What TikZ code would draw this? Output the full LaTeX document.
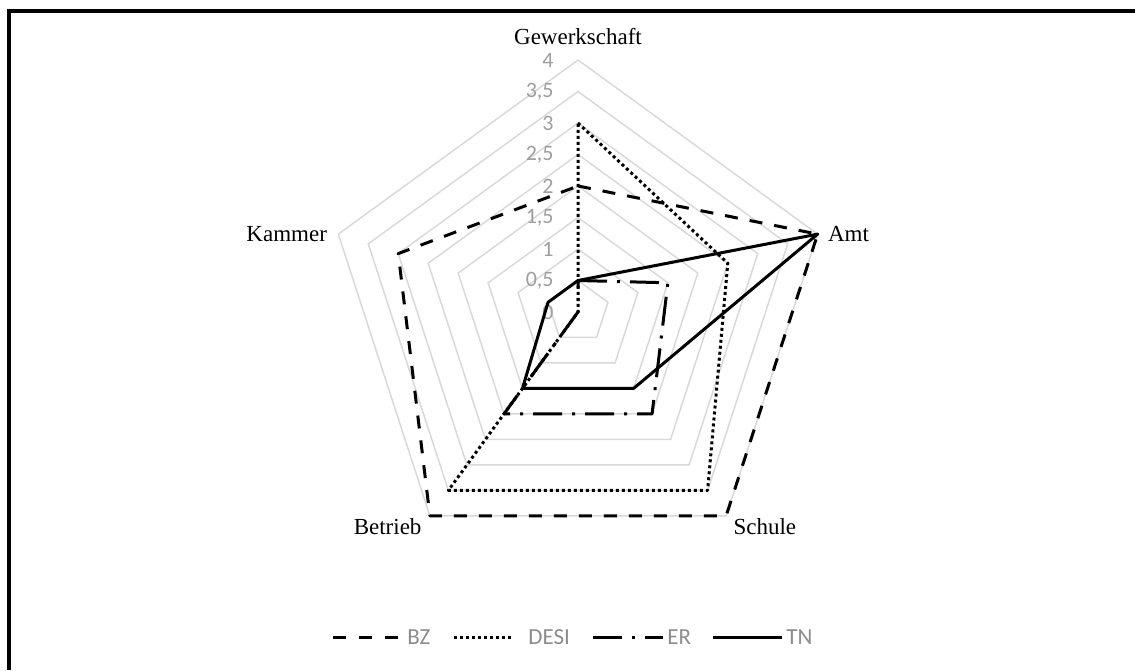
\documentclass[tikz,border=0pt]{standalone}
\usepackage{fontspec}
\setmainfont{Liberation Serif}
\newfontfamily\chartfont{Carlito}
\usetikzlibrary{positioning}

\begin{document}
\begin{tikzpicture}[
    x=0.5pt,y=0.5pt,
    grid/.style={draw=black!15,line width=0.75pt},
    ticklabel/.style={font=\chartfont\fontsize{11}{13}\selectfont,text=black!38,anchor=east,inner sep=0pt},
    catlabel/.style={font=\fontsize{11.5}{13}\selectfont,inner sep=1pt},
    series/.style={line width=1.5pt,line join=round},
    bz/.style={series,dash pattern=on 6.5pt off 6pt},
    desi/.style={series,dash pattern=on 1.5pt off 1.5pt},
    er/.style={series,dash pattern=on 14.5pt off 5pt on 1.5pt off 5pt},
    tn/.style={series},
    legendtext/.style={font=\chartfont\fontsize{11.5}{13}\selectfont,text=black!45,anchor=west,inner sep=2pt},
  ]
\useasboundingbox (0,0) rectangle (1135,-670);
\draw[line width=2pt] (9,-670) -- (9,-10.5) -- (1135,-10.5);

\begin{scope}[shift={(578,-312)}]
% grid rings, 0.5 apart
\foreach \k in {1,...,8}
  \draw[grid] (90:31.5*\k) -- (18:31.5*\k) -- (-54:31.5*\k) -- (-126:31.5*\k) -- (162:31.5*\k) -- cycle;
\foreach \t [count=\k from 0] in {0,{0,5},1,{1,5},2,{2,5},3,{3,5},4}
  \node (tick-\k) [ticklabel] at (-24,31.5*\k) {\t};

\coordinate (g4) at (90:252);
\coordinate (a4) at (18:252);
\coordinate (s4) at (-54:252);
\coordinate (b4) at (-126:252);
\coordinate (k4) at (162:252);

\node (gewerkschaft) [catlabel,above=6.5pt of g4] {Gewerkschaft};
\node (amt) [catlabel,right=4pt of a4] {Amt};
\node (schule) [catlabel,anchor=north west,xshift=2.5pt] at (s4) {Schule};
\node (betrieb) [catlabel,anchor=north east,xshift=-3pt] at (b4) {Betrieb};
\node (kammer) [catlabel,left=4.5pt of k4] {Kammer};

% series
\draw[bz] (90:{2*63}) -- (18:{4*63}) -- (-54:{4*63}) -- (-126:{4*63}) -- (162:{3*63}) -- cycle;
\draw[desi] (90:{3*63}) -- (18:{2.5*63}) -- (-54:{3.5*63}) -- (-126:{3.5*63}) -- (0,0) -- cycle;
\draw[er] (90:{0.5*63}) -- (18:{1.5*63}) -- (-54:{2*63}) -- (-126:{2*63}) -- (0,0) -- cycle;
\draw[tn] (90:{0.5*63}) -- (18:{4*63}) -- (-54:{1.5*63}) -- (-126:{1.5*63}) -- (162:{0.5*63}) -- cycle;
\end{scope}

% legend
\node (bz label) [legendtext] at (403,-637) {BZ};
\node (desi label) [legendtext] at (524,-637) {DESI};
\node (er label) [legendtext] at (663,-637) {ER};
\node (tn label) [legendtext] at (782,-637) {TN};
\coordinate (bz start) at (333,-637);
\coordinate (desi start) at (454,-637);
\coordinate (er start) at (593,-637);
\coordinate (tn start) at (713,-637);
\draw[bz,dash pattern=on 6.5pt off 6.5pt] (bz start) -- (bz label.west);
\draw[desi,shorten >=5pt] (desi start) -- (desi label.west);
\draw[er] (er start) -- (er label.west);
\draw[tn] (tn start) -- (tn label.west);
\end{tikzpicture}
\end{document}
